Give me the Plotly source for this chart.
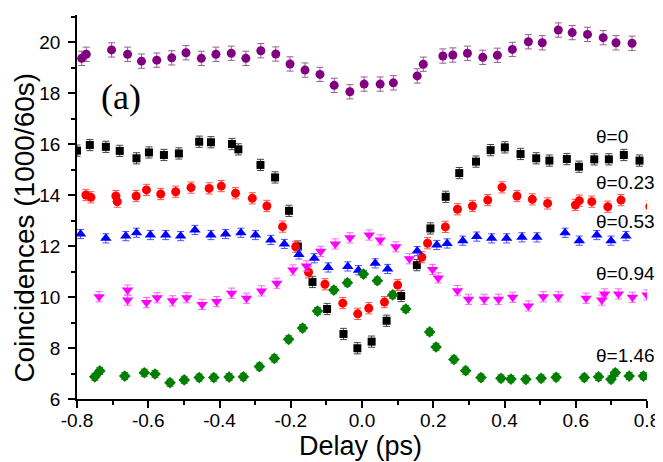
import plotly.graph_objects as go

# ---- data (delay in ps, coincidences in 1000/60s) ----
purple_x = [-0.787, -0.774, -0.703, -0.658, -0.619, -0.576, -0.534, -0.494, -0.451, -0.410,
            -0.367, -0.326, -0.284, -0.242, -0.202, -0.160, -0.118, -0.078, -0.034, 0.006,
            0.051, 0.088, 0.155, 0.172, 0.227, 0.255, 0.296, 0.339, 0.380, 0.422,
            0.467, 0.506, 0.551, 0.590, 0.633, 0.677, 0.713, 0.758]
purple_y = [19.36, 19.52, 19.69, 19.52, 19.25, 19.29, 19.38, 19.58, 19.36, 19.52,
            19.56, 19.36, 19.66, 19.53, 19.14, 18.90, 18.73, 18.30, 18.05, 18.35,
            18.35, 18.40, 18.67, 19.13, 19.45, 19.49, 19.56, 19.40, 19.48, 19.71,
            20.01, 19.97, 20.47, 20.37, 20.30, 20.17, 19.97, 19.95]

black_x = [-0.800, -0.764, -0.719, -0.680, -0.633, -0.598, -0.556, -0.514, -0.457, -0.424,
           -0.365, -0.347, -0.285, -0.244, -0.205, -0.180, -0.139, -0.098, -0.052, -0.013,
           0.027, 0.069, 0.110, 0.154, 0.192, 0.235, 0.273, 0.320, 0.361, 0.401,
           0.445, 0.489, 0.526, 0.575, 0.609, 0.652, 0.693, 0.735, 0.779]
black_y = [15.74, 15.96, 15.89, 15.73, 15.44, 15.67, 15.57, 15.63, 16.09, 16.07,
           16.00, 15.79, 15.18, 14.69, 13.38, 11.98, 10.59, 9.53, 8.55, 7.99,
           8.25, 9.07, 10.04, 11.25, 12.69, 13.93, 14.86, 15.31, 15.76, 15.87,
           15.61, 15.44, 15.35, 15.41, 15.11, 15.40, 15.40, 15.57, 15.35]

red_x = [-0.775, -0.761, -0.691, -0.687, -0.634, -0.605, -0.565, -0.523, -0.480, -0.429,
         -0.395, -0.355, -0.308, -0.267, -0.223, -0.186, -0.150, -0.104, -0.054, -0.012,
         0.019, 0.063, 0.100, 0.168, 0.184, 0.234, 0.268, 0.310, 0.353, 0.393,
         0.435, 0.478, 0.521, 0.599, 0.610, 0.645, 0.690, 0.727, 0.808]
red_y = [14.00, 13.91, 13.96, 13.74, 13.96, 14.20, 14.04, 14.13, 14.29, 14.26,
         14.35, 14.07, 13.87, 13.57, 12.76, 11.97, 10.97, 10.50, 9.76, 9.34,
         9.56, 9.80, 10.47, 11.56, 12.11, 12.75, 13.44, 13.57, 13.80, 14.30,
         13.96, 13.83, 13.67, 13.61, 13.78, 13.74, 13.54, 13.80, 13.55]

blue_x = [-0.790, -0.719, -0.663, -0.633, -0.594, -0.551, -0.509, -0.469, -0.424, -0.383,
          -0.340, -0.299, -0.256, -0.218, -0.177, -0.134, -0.095, -0.040, -0.010, 0.037,
          0.072, 0.155, 0.210, 0.239, 0.283, 0.322, 0.364, 0.406, 0.449, 0.491,
          0.570, 0.610, 0.659, 0.699, 0.741]
blue_y = [12.47, 12.30, 12.39, 12.52, 12.43, 12.43, 12.39, 12.63, 12.43, 12.47,
          12.52, 12.43, 12.24, 12.08, 11.67, 11.52, 11.16, 11.20, 11.05, 11.32,
          11.10, 11.80, 12.04, 12.10, 12.21, 12.37, 12.30, 12.30, 12.34, 12.34,
          12.52, 12.21, 12.43, 12.21, 12.39]

magenta_x = [-0.738, -0.658, -0.658, -0.605, -0.575, -0.532, -0.492, -0.449, -0.408, -0.366,
             -0.324, -0.282, -0.239, -0.194, -0.156, -0.116, -0.075, -0.034, 0.020, 0.051,
             0.095, 0.133, 0.198, 0.214, 0.268, 0.299, 0.343, 0.383, 0.423, 0.467,
             0.509, 0.551, 0.629, 0.673, 0.681, 0.720, 0.759, 0.800]
magenta_y = [10.01, 10.27, 9.88, 9.78, 9.97, 9.85, 9.97, 9.71, 9.82, 10.15,
             9.95, 10.24, 10.54, 11.06, 11.22, 11.79, 12.08, 12.32, 12.43, 12.24,
             11.97, 11.50, 11.08, 10.75, 10.25, 9.91, 9.91, 9.91, 9.99, 9.65,
             10.01, 10.01, 9.95, 9.88, 10.12, 10.12, 9.99, 10.08]

green_x = [-0.750, -0.736, -0.666, -0.611, -0.581, -0.539, -0.499, -0.457, -0.416, -0.373,
           -0.333, -0.288, -0.246, -0.206, -0.167, -0.125, -0.079, -0.041, 0.004, 0.043,
           0.086, 0.123, 0.190, 0.208, 0.258, 0.291, 0.334, 0.390, 0.418, 0.460,
           0.503, 0.545, 0.624, 0.664, 0.699, 0.711, 0.750, 0.790]
green_y = [6.87, 7.10, 6.90, 7.03, 6.98, 6.64, 6.75, 6.84, 6.84, 6.86,
           6.87, 7.27, 7.59, 8.34, 8.78, 9.45, 10.27, 10.56, 10.90, 10.64,
           10.08, 9.53, 8.63, 8.04, 7.55, 7.11, 6.84, 6.81, 6.78, 6.77,
           6.81, 6.85, 6.84, 6.87, 6.77, 7.03, 6.90, 6.90]

series_labels = ["θ=2.88", "θ=0", "θ=0.23", "θ=0.53", "θ=0.94", "θ=1.46"]
label_y = [21.1, 16.29, 14.51, 12.98, 10.94, 7.69]
errors = [0.28, 0.22, 0.22, 0.18, 0.20, 0.14]

x_tickvals = [-0.8, -0.6, -0.4, -0.2, 0.0, 0.2, 0.4, 0.6, 0.8]
x_ticktext = ["-0.8", "-0.6", "-0.4", "-0.2", "0.0", "0.2", "0.4", "0.6", "0.8"]
y_tickvals = [6, 8, 10, 12, 14, 16, 18, 20]

x_title = "Delay (ps)"
y_title = "Coincidences (1000/60s)"

# ---- styling ----
styles = [
    (purple_x, purple_y, "circle", 9, "#800080", "#9a5a9a"),
    (black_x, black_y, "square", 8, "#000000", "#444444"),
    (red_x, red_y, "circle", 9, "#ff0000", "#ff5050"),
    (blue_x, blue_y, "triangle-up", 10, "#0000ff", "#5050ff"),
    (magenta_x, magenta_y, "triangle-down", 10, "#ff00ff", "#ff60ff"),
    (green_x, green_y, "diamond", 9, "#007f00", "#3a8a3a"),
]

fig = go.Figure()
for (xs, ys, sym, sz, col, ecol), err in zip(styles, errors):
    fig.add_trace(go.Scatter(
        x=xs, y=ys, mode="markers",
        marker=dict(symbol=sym, size=sz, color=col, line=dict(width=0)),
        error_y=dict(type="constant", value=err, color=ecol, thickness=1, width=3.5),
        cliponaxis=True, showlegend=False, hoverinfo="skip",
    ))

for txt, yv in zip(series_labels, label_y):
    fig.add_annotation(x=0.653, y=yv, xref="x", yref="y", text=txt, showarrow=False,
                       xanchor="left", yanchor="middle", borderpad=0,
                       font=dict(family="Liberation Sans, Arial", size=19, color="black"))

fig.add_annotation(x=-0.676, y=17.84, xref="x", yref="y", text="(a)", showarrow=False,
                   xanchor="center", yanchor="middle",
                   font=dict(family="Liberation Serif, Times New Roman", size=36, color="black"))

# axis titles as annotations (positioned like the reference)
fig.add_annotation(x=-0.0921, y=0.445, xref="paper", yref="paper", text=y_title, textangle=-90,
                   showarrow=False, xanchor="center", yanchor="middle", borderpad=0,
                   font=dict(family="Liberation Sans, Arial", size=28, color="black"))
fig.add_annotation(x=0.4965, y=-0.1224, xref="paper", yref="paper", text=x_title,
                   showarrow=False, xanchor="center", yanchor="middle", borderpad=0,
                   font=dict(family="Liberation Sans, Arial", size=27, color="black"))

axis_font = dict(family="Liberation Sans, Arial", size=19, color="black")
# page body has an 8px default margin: figure is 655x454 placed at (8,8)
fig.update_layout(
    width=655, height=454,
    margin=dict(l=69, r=16, t=7, b=63),
    paper_bgcolor="white", plot_bgcolor="white",
    font=dict(family="Liberation Sans, Arial", color="black"),
    xaxis=dict(
        range=[-0.8, 0.8], tickvals=x_tickvals, ticktext=x_ticktext, automargin=False,
        showgrid=False, zeroline=False, showline=True, linecolor="black", linewidth=1.5,
        ticks="outside", ticklen=7, tickwidth=1.5, tickcolor="black", tickfont=axis_font,
        ticklabelstandoff=-4,
        minor=dict(dtick=0.1, tick0=0, ticks="outside", ticklen=4, tickwidth=1.5, tickcolor="black"),
    ),
    yaxis=dict(
        range=[6, 21.06], tickvals=y_tickvals, automargin=False,
        showgrid=False, zeroline=False, showline=True, linecolor="black", linewidth=1.5,
        ticks="outside", ticklen=7, tickwidth=1.5, tickcolor="black", tickfont=axis_font,
        ticklabelstandoff=4,
        minor=dict(dtick=1, tick0=0, ticks="outside", ticklen=4, tickwidth=1.5, tickcolor="black"),
    ),
)

fig.write_html("out.html")
